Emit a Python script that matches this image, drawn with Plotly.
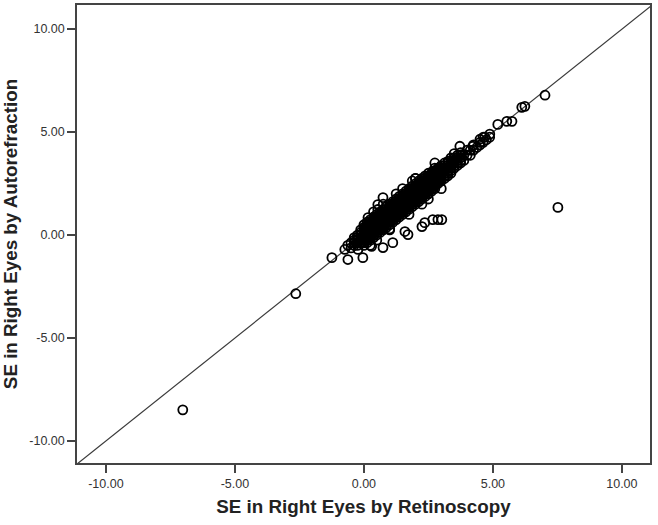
import plotly.graph_objects as go

# Dense band of subjects (retinoscopy SE, autorefraction SE), read column by column
ret_se = [
    -0.625,
    -0.5, -0.5,
    -0.375, -0.375, -0.375,
    -0.25, -0.25, -0.25,
    -0.125, -0.125, -0.125, -0.125,
    0.0, 0.0, 0.0, 0.0, 0.0,
    0.125, 0.125, 0.125, 0.125, 0.125,
    0.25, 0.25, 0.25, 0.25, 0.25,
    0.375, 0.375, 0.375, 0.375, 0.375,
    0.5, 0.5, 0.5, 0.5, 0.5,
    0.625, 0.625, 0.625, 0.625, 0.625,
    0.75, 0.75, 0.75, 0.75, 0.75,
    0.875, 0.875, 0.875, 0.875, 0.875,
    1.0, 1.0, 1.0, 1.0, 1.0,
    1.125, 1.125, 1.125, 1.125, 1.125,
    1.25, 1.25, 1.25, 1.25, 1.25,
    1.375, 1.375, 1.375, 1.375, 1.375,
    1.5, 1.5, 1.5, 1.5, 1.5,
    1.625, 1.625, 1.625, 1.625, 1.625,
    1.75, 1.75, 1.75, 1.75, 1.75,
    1.875, 1.875, 1.875, 1.875, 1.875,
    2.0, 2.0, 2.0, 2.0, 2.0,
    2.125, 2.125, 2.125, 2.125, 2.125,
    2.25, 2.25, 2.25, 2.25, 2.25,
    2.375, 2.375, 2.375, 2.375, 2.375,
    2.5, 2.5, 2.5, 2.5, 2.5,
    2.625, 2.625, 2.625, 2.625,
    2.75, 2.75, 2.75, 2.75, 2.75,
    2.875, 2.875, 2.875, 2.875,
    3.0, 3.0, 3.0, 3.0,
    3.125, 3.125, 3.125, 3.125,
    3.25, 3.25, 3.25,
    3.375, 3.375, 3.375, 3.375,
    3.5, 3.5, 3.5,
    3.625, 3.625, 3.625,
    3.75, 3.75, 3.75,
    3.875, 3.875,
    4.0, 4.0,
    4.125, 4.125,
    4.25, 4.25,
    4.375,
    4.5, 4.5,
    4.625, 4.625,
    4.75,
    4.875,
]
auto_se = [
    -0.5,
    -0.625, -0.375,
    -0.5, -0.25, -0.125,
    -0.5, -0.25, 0.0,
    -0.375, -0.125, 0.125, 0.25,
    -0.5, -0.25, 0.0, 0.25, 0.5,
    -0.375, -0.125, 0.125, 0.375, 0.625,
    -0.25, 0.0, 0.25, 0.5, 0.75,
    -0.125, 0.125, 0.375, 0.625, 0.875,
    0.0, 0.25, 0.5, 0.75, 1.0,
    0.125, 0.375, 0.625, 0.875, 1.125,
    0.25, 0.5, 0.75, 1.0, 1.25,
    0.375, 0.625, 0.875, 1.125, 1.375,
    0.5, 0.75, 1.0, 1.25, 1.5,
    0.625, 0.875, 1.125, 1.375, 1.625,
    0.75, 1.0, 1.25, 1.5, 1.75,
    0.875, 1.125, 1.375, 1.625, 1.875,
    1.0, 1.25, 1.5, 1.75, 2.0,
    1.125, 1.375, 1.625, 1.875, 2.125,
    1.25, 1.5, 1.75, 2.0, 2.25,
    1.375, 1.625, 1.875, 2.125, 2.375,
    1.5, 1.75, 2.0, 2.25, 2.5,
    1.625, 1.875, 2.125, 2.375, 2.625,
    1.75, 2.0, 2.25, 2.5, 2.75,
    1.875, 2.125, 2.375, 2.625, 2.875,
    2.0, 2.25, 2.5, 2.75, 3.0,
    2.125, 2.375, 2.625, 2.875,
    2.25, 2.5, 2.75, 3.0, 3.25,
    2.5, 2.75, 3.0, 3.25,
    2.625, 2.875, 3.125, 3.375,
    2.75, 3.0, 3.25, 3.5,
    2.875, 3.125, 3.375,
    3.0, 3.25, 3.5, 3.75,
    3.25, 3.5, 3.75,
    3.375, 3.625, 3.875,
    3.5, 3.75, 4.0,
    3.625, 3.875,
    3.875, 4.125,
    3.875, 4.125,
    4.125, 4.375,
    4.25,
    4.375, 4.5,
    4.5, 4.75,
    4.625,
    4.75,
]

# In-between readings that make the core of the band solid
ret_fill = [
    -0.375, -0.25, -0.25, -0.125, -0.125,
    0.0, 0.0, 0.0, 0.0,
    0.125, 0.125, 0.125, 0.125,
    0.25, 0.25, 0.25, 0.25,
    0.375, 0.375, 0.375, 0.375,
    0.5, 0.5, 0.5, 0.5,
    0.625, 0.625, 0.625, 0.625,
    0.75, 0.75, 0.75, 0.75,
    0.875, 0.875, 0.875, 0.875,
    1.0, 1.0, 1.0, 1.0,
    1.125, 1.125, 1.125, 1.125,
    1.25, 1.25, 1.25, 1.25,
    1.375, 1.375, 1.375, 1.375,
    1.5, 1.5, 1.5, 1.5,
    1.625, 1.625, 1.625, 1.625,
    1.75, 1.75, 1.75, 1.75,
    1.875, 1.875, 1.875, 1.875,
    2.0, 2.0, 2.0, 2.0,
    2.125, 2.125, 2.125, 2.125,
    2.25, 2.25, 2.25, 2.25,
    2.375, 2.375, 2.375, 2.375,
    2.5, 2.5, 2.5, 2.5,
    2.625, 2.625, 2.625, 2.625,
    2.75, 2.75, 2.75, 2.75,
    2.875, 2.875, 2.875,
    3.0, 3.0, 3.0,
    3.125, 3.125, 3.125,
    3.25, 3.25, 3.25,
    3.375, 3.375, 3.375,
    3.5, 3.5,
    3.625, 3.625,
    3.75, 3.75,
]
auto_fill = [
    -0.375, -0.375, -0.125, -0.25, 0.0,
    -0.375, -0.125, 0.125, 0.375,
    -0.25, 0.0, 0.25, 0.5,
    -0.125, 0.125, 0.375, 0.625,
    0.0, 0.25, 0.5, 0.75,
    0.125, 0.375, 0.625, 0.875,
    0.25, 0.5, 0.75, 1.0,
    0.375, 0.625, 0.875, 1.125,
    0.5, 0.75, 1.0, 1.25,
    0.625, 0.875, 1.125, 1.375,
    0.75, 1.0, 1.25, 1.5,
    0.875, 1.125, 1.375, 1.625,
    1.0, 1.25, 1.5, 1.75,
    1.125, 1.375, 1.625, 1.875,
    1.25, 1.5, 1.75, 2.0,
    1.375, 1.625, 1.875, 2.125,
    1.5, 1.75, 2.0, 2.25,
    1.625, 1.875, 2.125, 2.375,
    1.75, 2.0, 2.25, 2.5,
    1.875, 2.125, 2.375, 2.625,
    2.0, 2.25, 2.5, 2.75,
    2.125, 2.375, 2.625, 2.875,
    2.25, 2.5, 2.75, 3.0,
    2.375, 2.625, 2.875, 3.125,
    2.625, 2.875, 3.125,
    2.75, 3.0, 3.25,
    2.875, 3.125, 3.375,
    3.0, 3.25, 3.5,
    3.125, 3.375, 3.625,
    3.375, 3.625,
    3.5, 3.75,
    3.625, 3.875,
]

# Readings from the half-step retinoscopy columns inside the black core
ret_core = [
    0.0625, 0.0625, 0.0625, 0.0625, 0.0625, 0.0625,
    0.1875, 0.1875, 0.1875, 0.1875, 0.1875, 0.1875,
    0.3125, 0.3125, 0.3125, 0.3125, 0.3125, 0.3125,
    0.4375, 0.4375, 0.4375, 0.4375, 0.4375, 0.4375,
    0.5625, 0.5625, 0.5625, 0.5625, 0.5625, 0.5625,
    0.6875, 0.6875, 0.6875, 0.6875, 0.6875, 0.6875,
    0.8125, 0.8125, 0.8125, 0.8125, 0.8125, 0.8125,
    0.9375, 0.9375, 0.9375, 0.9375, 0.9375, 0.9375,
    1.0625, 1.0625, 1.0625, 1.0625, 1.0625, 1.0625,
    1.1875, 1.1875, 1.1875, 1.1875, 1.1875, 1.1875,
    1.3125, 1.3125, 1.3125, 1.3125, 1.3125, 1.3125,
    1.4375, 1.4375, 1.4375, 1.4375, 1.4375, 1.4375,
    1.5625, 1.5625, 1.5625, 1.5625, 1.5625, 1.5625,
    1.6875, 1.6875, 1.6875, 1.6875, 1.6875, 1.6875,
    1.8125, 1.8125, 1.8125, 1.8125, 1.8125, 1.8125,
    1.9375, 1.9375, 1.9375, 1.9375, 1.9375, 1.9375,
    2.0625, 2.0625, 2.0625, 2.0625, 2.0625, 2.0625,
    2.1875, 2.1875, 2.1875, 2.1875, 2.1875, 2.1875,
    2.3125, 2.3125, 2.3125, 2.3125, 2.3125, 2.3125,
    2.4375, 2.4375, 2.4375, 2.4375, 2.4375, 2.4375,
    2.5625, 2.5625, 2.5625, 2.5625, 2.5625, 2.5625,
    2.6875, 2.6875, 2.6875, 2.6875, 2.6875, 2.6875,
    2.8125, 2.8125, 2.8125, 2.8125, 2.8125, 2.8125,
    2.9375, 2.9375, 2.9375, 2.9375, 2.9375, 2.9375,
]
auto_core = [
    -0.25, -0.125, 0.0, 0.125, 0.25, 0.375,
    -0.125, 0.0, 0.125, 0.25, 0.375, 0.5,
    0.0, 0.125, 0.25, 0.375, 0.5, 0.625,
    0.125, 0.25, 0.375, 0.5, 0.625, 0.75,
    0.25, 0.375, 0.5, 0.625, 0.75, 0.875,
    0.375, 0.5, 0.625, 0.75, 0.875, 1.0,
    0.5, 0.625, 0.75, 0.875, 1.0, 1.125,
    0.625, 0.75, 0.875, 1.0, 1.125, 1.25,
    0.75, 0.875, 1.0, 1.125, 1.25, 1.375,
    0.875, 1.0, 1.125, 1.25, 1.375, 1.5,
    1.0, 1.125, 1.25, 1.375, 1.5, 1.625,
    1.125, 1.25, 1.375, 1.5, 1.625, 1.75,
    1.25, 1.375, 1.5, 1.625, 1.75, 1.875,
    1.375, 1.5, 1.625, 1.75, 1.875, 2.0,
    1.5, 1.625, 1.75, 1.875, 2.0, 2.125,
    1.625, 1.75, 1.875, 2.0, 2.125, 2.25,
    1.75, 1.875, 2.0, 2.125, 2.25, 2.375,
    1.875, 2.0, 2.125, 2.25, 2.375, 2.5,
    2.0, 2.125, 2.25, 2.375, 2.5, 2.625,
    2.125, 2.25, 2.375, 2.5, 2.625, 2.75,
    2.25, 2.375, 2.5, 2.625, 2.75, 2.875,
    2.375, 2.5, 2.625, 2.75, 2.875, 3.0,
    2.5, 2.625, 2.75, 2.875, 3.0, 3.125,
    2.625, 2.75, 2.875, 3.0, 3.125, 3.25,
]

# Scattered points around the band and isolated outliers
ret_out = [0.74, 0.54, 0.54, 0.16, 0.74, 1.12, 1.59, 1.71, 2.25, 2.36, 2.67, 2.87, 3.02,
           -0.04, -0.62, -1.24, -0.74, -0.23, 3.72, 3.26, 2.67, 4.22, 4.5, 4.69, 4.88,
           5.19, 5.54, 5.74, 6.12, 6.24, 7.02, 7.52, -2.64, -7.02, 0.3, 1.0, 2.0, 3.5,
           0.25, 0.5, 1.0, 1.25, 1.5, 2.0, 2.25, 1.75, 2.5, 3.0, 0.75, 2.75, 0.375, 1.875]
auto_out = [1.82, 1.48, 1.24, 0.85, -0.61, -0.37, 0.17, 0.02, 0.41, 0.6, 0.75, 0.75, 0.75,
            -1.1, -1.19, -1.1, -0.7, -0.7, 4.31, 3.58, 3.09, 4.31, 4.65, 4.75, 4.9,
            5.37, 5.52, 5.52, 6.2, 6.25, 6.79, 1.34, -2.85, -8.49, -0.55, 0.3, 2.75, 3.95,
            -0.5, -0.25, 0.25, 2.0, 2.25, 2.75, 1.5, 1.0, 1.75, 2.25, 1.5, 3.5, 1.125, 2.625]

x_range = [-11.12, 11.09]
y_range = [-11.07, 11.17]
tick_vals = [-10, -5, 0, 5, 10]
tick_text = ["-10.00", "-5.00", "0.00", "5.00", "10.00"]

font_family = "Liberation Sans, Arial, sans-serif"

fig = go.Figure()

# identity line, spanning the full axis range
lo = min(x_range + y_range)
hi = max(x_range + y_range)
fig.add_trace(go.Scatter(
    x=[lo, hi],
    y=[lo, hi],
    mode="lines",
    line=dict(color="#3a3a3a", width=1.2),
    hoverinfo="skip",
    showlegend=False,
))

fig.add_trace(go.Scatter(
    x=ret_se + ret_fill + ret_core + ret_out,
    y=auto_se + auto_fill + auto_core + auto_out,
    mode="markers",
    marker=dict(symbol="circle-open", size=9, color="#000000", line=dict(width=1.8)),
    showlegend=False,
))

axis_style = dict(
    tickvals=tick_vals,
    ticktext=tick_text,
    ticks="outside",
    ticklen=8,
    tickwidth=1.5,
    tickcolor="#444444",
    showline=True,
    linecolor="#444444",
    linewidth=1.5,
    mirror=True,
    showgrid=False,
    zeroline=False,
    automargin=False,
    tickfont=dict(family=font_family, size=12.5, color="#333333"),
)

title_font = dict(family=font_family, size=18.8, color="#222222", weight="bold")

fig.update_xaxes(
    range=x_range,
    title=dict(text="SE in Right Eyes by Retinoscopy", standoff=10, font=title_font),
    **axis_style,
)
fig.update_yaxes(
    range=y_range,
    title=dict(text="SE in Right Eyes by Autorefraction", standoff=7, font=title_font),
    **axis_style,
)

fig.update_layout(
    width=658,
    height=525,
    margin=dict(l=77, r=8, t=5, b=62),
    paper_bgcolor="white",
    plot_bgcolor="white",
)

# the page body has a default 8px margin; drop it so the figure sits at the window corner
fig.write_html("out.html", config={"displayModeBar": False},
               post_script="document.body.style.margin='0';")
